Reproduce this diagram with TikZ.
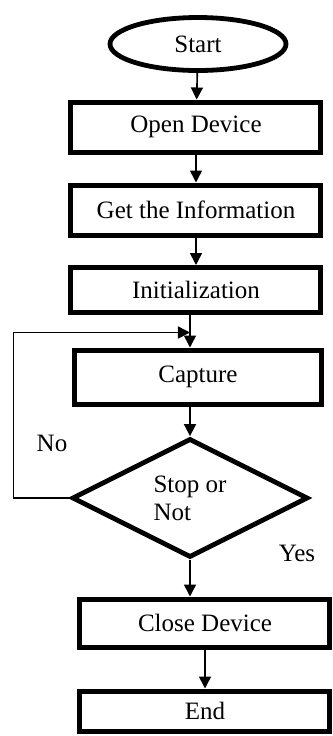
\documentclass[tikz,border=0pt]{standalone}
\usepackage{fontspec}
\setmainfont{Liberation Serif}
\usetikzlibrary{shapes.geometric,arrows.meta,positioning}

\tikzset{
  procbox/.style={rectangle, draw, line width=2.5pt, minimum width=125pt, minimum height=25pt, inner sep=0pt},
  flowline/.style={line width=0.8pt, -{Triangle[length=6pt,width=6pt]}}
}

\begin{document}
\begin{tikzpicture}[node distance=41.5pt, font=\fontsize{12.5}{14}\selectfont]
    \useasboundingbox (0,0) rectangle (166.5pt,-368pt);
    \node (start) [ellipse, draw, line width=2.4pt, minimum width=88pt, minimum height=26.5pt, inner sep=0pt] at (99pt,-22pt) {Start};
    \node (open) [procbox, below of=start, xshift=-1pt] {Open Device};
    \node (info) [procbox, below of=open] {Get the Information};
    \node (init) [procbox, node distance=40pt, below of=info, minimum height=22.5pt] {Initialization};
    \node (capture) [procbox, node distance=43.5pt, below of=init, xshift=1pt, minimum width=123.5pt, minimum height=27pt] {Capture};
    \node (decide) [diamond, draw, line width=2.4pt, node distance=60.5pt, below of=capture, xshift=-4pt, minimum width=118pt, minimum height=59.5pt, aspect=2, inner sep=0pt, align=left] {Stop or\\Not};
    \node (close) [procbox, node distance=62.5pt, below of=decide, xshift=7.5pt, minimum height=24pt] {Close Device};
    \node (end) [procbox, node distance=44pt, below of=close, minimum height=20pt] {End};
    \node (no) at (26pt,-221.5pt) {No};
    \node (yes) at (148.5pt,-276.5pt) {Yes};
    \coordinate [above=7.5pt of capture.north, xshift=-4pt] (join);

    \draw [flowline] (start) -- (open);
    \draw [flowline] (open) -- (info);
    \draw [flowline] (info) -- (init);
    \draw [flowline] (init.south -| decide) -- (capture.north -| decide);
    \draw [flowline] (capture.south -| decide) -- (decide);
    \draw [flowline] (decide.west) -- ++(-28pt,0) |- (join);
    \draw [flowline] (decide) -- (decide |- close.north);
    \draw [flowline] (close) -- (end);
\end{tikzpicture}
\end{document}
